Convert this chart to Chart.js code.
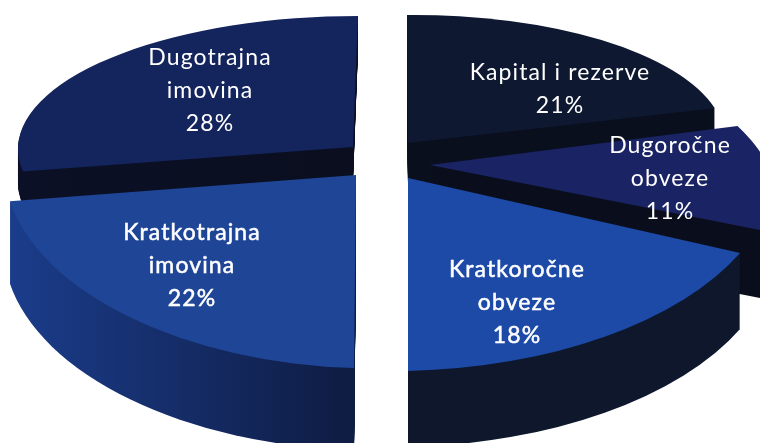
<!DOCTYPE html>
<html>
<head>
<meta charset="utf-8">
<style>
  html, body { margin: 0; padding: 0; background: #fff; overflow: hidden; }
  canvas { display: block; }
</style>
<script src="https://cdn.jsdelivr.net/npm/chart.js@4"></script>
</head>
<body>
<canvas id="myChart" width="760" height="443"></canvas>
<script>
const categories = ['Kapital i rezerve', 'Dugoročne obveze', 'Kratkoročne obveze', 'Kratkotrajna imovina', 'Dugotrajna imovina'];
const values = [21, 11, 18, 22, 28];

const topColors = ['#0e1831', '#1a2465', '#1c4aa6', '#1f4597', '#14245c'];

// how each slice is tipped and pulled apart, since Chart.js only draws flat pies
const views = [
  { tx: 408, ty: 143, sx: 317, sy: 128, k: -3, j: 1, depth: 44 },
  { tx: 430, ty: 165, sx: 338, sy: 157, k: 0, j: 80, depth: 68 },
  { tx: 408, ty: 178, sx: 367, sy: 193, k: -8, j: 0, depth: 76 },
  { tx: 356, ty: 175, sx: 352, sy: 193, k: 10, j: -2, depth: 82 },
  { tx: 353, ty: 147, sx: 335, sy: 131, k: 0, j: -5, depth: 34 }
];
const wallColors = [
  ['#080c18', '#0a0f1e'],
  ['#07090f', '#0a0e1c'],
  ['#0d1528', '#0e172c'],
  ['#1b3d8c', '#0e1a3e'],
  ['#0b1026', '#0a0e1e']
];
const labelLines = [
  ['Kapital i rezerve', '21%'],
  ['Dugoročne', 'obveze', '11%'],
  ['Kratkoročne', 'obveze', '18%'],
  ['Kratkotrajna', 'imovina', '22%'],
  ['Dugotrajna', 'imovina', '28%']
];
const labelPos = [[560, 73], [670, 146], [517, 270], [192, 233], [210, 58]];
const labelWeight = [0, 0, 0.5, 0.5, 0];
const drawOrder = [0, 4, 1, 3, 2];

function slicePath(ctx, arc, view, shift) {
  const r = arc.outerRadius;
  ctx.save();
  ctx.translate(view.tx, view.ty + shift);
  ctx.transform(view.sx / r, view.k / r, view.j / r, view.sy / r, 0, 0);
  ctx.beginPath();
  ctx.moveTo(0, 0);
  ctx.arc(0, 0, r, arc.startAngle, arc.endAngle);
  ctx.closePath();
  ctx.restore();
}

const pie3d = {
  id: 'pie3d',
  beforeDatasetsDraw(chart) {
    const ctx = chart.ctx;
    const arcs = chart.getDatasetMeta(0).data;
    drawOrder.forEach(i => {
      const arc = arcs[i];
      const view = views[i];
      const wall = ctx.createLinearGradient(view.tx - view.sx, 0, view.tx + view.sx * 0.05, 0);
      wall.addColorStop(0, wallColors[i][0]);
      wall.addColorStop(1, wallColors[i][1]);
      ctx.fillStyle = wall;
      for (let d = view.depth; d > 0; d--) {
        slicePath(ctx, arc, view, d);
        ctx.fill();
      }
      slicePath(ctx, arc, view, 0);
      ctx.fillStyle = arc.options.backgroundColor;
      ctx.fill();
    });
    return false;
  },
  // returning false above also skips afterDatasetsDraw, so the labels go here
  afterDraw(chart) {
    const ctx = chart.ctx;
    ctx.save();
    ctx.fillStyle = '#fff';
    ctx.strokeStyle = '#fff';
    ctx.font = '23px Lato';
    ctx.letterSpacing = '1.1px';
    ctx.textAlign = 'center';
    ctx.textBaseline = 'middle';
    labelLines.forEach((lines, i) => {
      ctx.lineWidth = labelWeight[i];
      lines.forEach((line, n) => {
        ctx.fillText(line, labelPos[i][0], labelPos[i][1] + n * 33);
        if (labelWeight[i]) ctx.strokeText(line, labelPos[i][0], labelPos[i][1] + n * 33);
      });
    });
    ctx.restore();
  }
};

new Chart(document.getElementById('myChart'), {
  type: 'pie',
  data: {
    labels: categories,
    datasets: [{ data: values, backgroundColor: topColors, borderWidth: 0 }]
  },
  options: {
    responsive: false,
    animation: false,
    plugins: { legend: { display: false }, tooltip: { enabled: false } }
  },
  plugins: [pie3d]
});
</script>
</body>
</html>
